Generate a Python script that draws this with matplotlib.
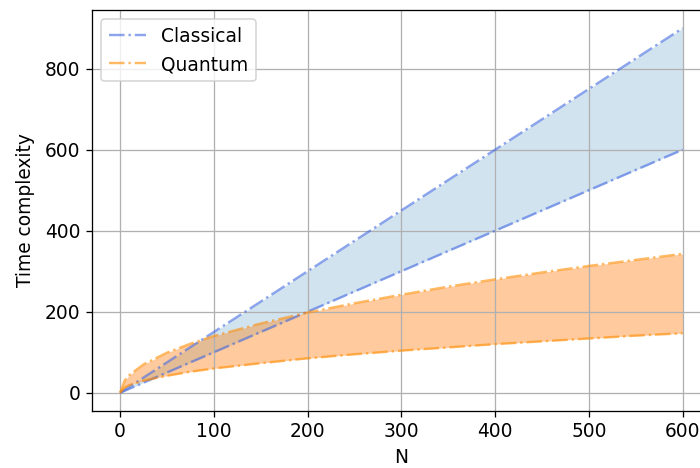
import matplotlib
matplotlib.use("Agg")
import matplotlib.pyplot as plt

N = [0, 5, 10, 25, 50, 75, 100, 150, 200, 250, 300, 350, 400, 450, 500, 550, 600]
classical_low = [0, 5, 10, 25, 50, 75, 100, 150, 200, 250, 300, 350, 400, 450, 500, 550, 600]
classical_high = [0, 7.5, 15, 37.5, 75, 112.5, 150, 225, 300, 375, 450, 525, 600, 675, 750, 825, 900]
quantum_high = [0, 31, 44, 70, 99, 121, 140, 171, 198, 221, 242, 262, 280, 297, 313, 328, 343]
quantum_low = [0, 13, 19, 30, 42, 52, 60, 73, 85, 95, 104, 112, 120, 127, 134, 141, 147]

plt.rcParams['font.size'] = 11.5

dpi = 700 / 6
fig = plt.figure(figsize=(6, 468 / dpi), dpi=dpi)
ax = fig.add_axes([0.1314, 0.1218, 0.884, 0.857])

ax.plot(N, classical_low, '-.', color='royalblue', alpha=0.6, label='Classical')
ax.plot(N, classical_high, '-.', color='royalblue', alpha=0.6)
ax.fill_between(N, classical_low, classical_high, color='tab:blue', alpha=0.2, linewidth=0)
ax.plot(N, quantum_high, '-.', color='darkorange', alpha=0.6, label='Quantum')
ax.plot(N, quantum_low, '-.', color='darkorange', alpha=0.6)
ax.fill_between(N, quantum_low, quantum_high, color='tab:orange', alpha=0.4, linewidth=0)

ax.set_xlabel('N')
ax.set_ylabel('Time complexity', labelpad=6)
ax.grid(True)
ax.legend(loc='upper left')

fig.savefig('out.png', dpi=dpi)
